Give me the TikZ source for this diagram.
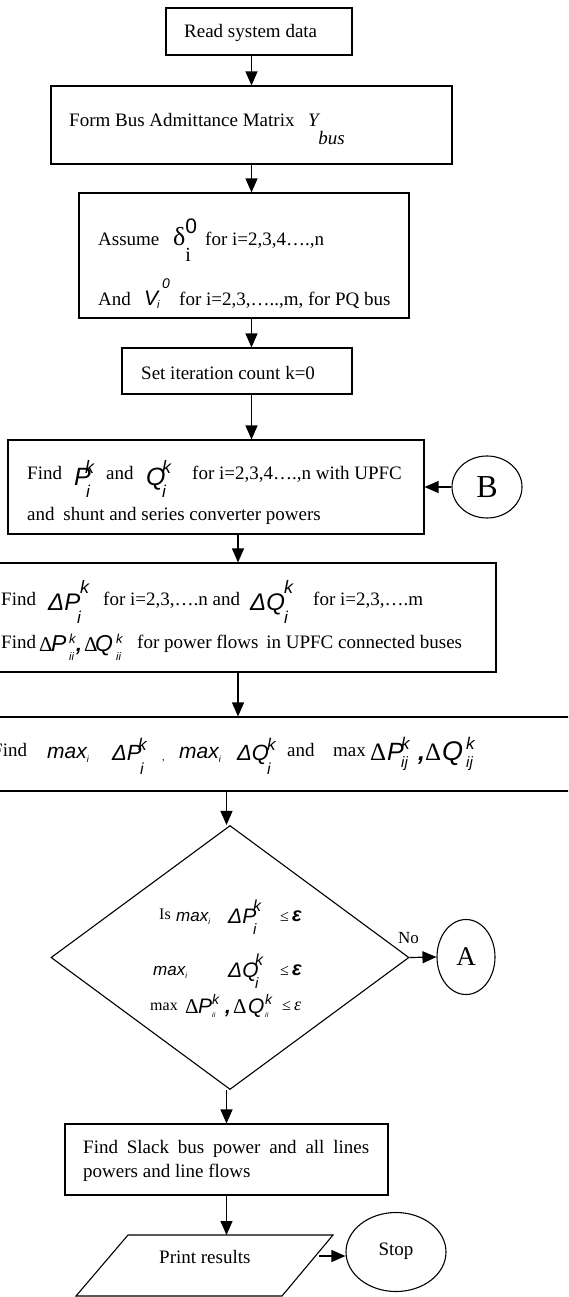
\documentclass[tikz,border=0pt]{standalone}
\usepackage{fontspec}
\setmainfont{Liberation Serif}
\newfontfamily\arialfont{Liberation Sans}
\usepackage{tikz}
\usetikzlibrary{
  shapes.geometric,
  arrows.meta,
  positioning
}

\newcommand{\fsz}[1]{\fontsize{#1}{#1}\selectfont}
\newcommand{\ait}[2]{{\arialfont\itshape\fsz{#1}#2}}
\newcommand{\tms}[2]{{\fsz{#1}#2}}
\newcommand{\adv}[2]{\makebox[#1][l]{#2}}
\newsavebox\supbox
\newsavebox\subbox
\newcommand{\supsub}[4]{%
  \sbox\supbox{\raisebox{#3}{#1}}%
  \sbox\subbox{\raisebox{#4}{#2}}%
  \ifdim\wd\supbox>\wd\subbox\rlap{\usebox\subbox}\usebox\supbox
  \else\rlap{\usebox\supbox}\usebox\subbox\fi}

\begin{document}
\begin{tikzpicture}[
  x=1pt, y=-1pt,
  font=\fontsize{19}{23}\selectfont,
  box/.style={rectangle, draw, line width=1.1pt, inner sep=0pt},
  term/.style={ellipse, draw, line width=1.1pt, inner sep=0pt},
  arr/.style={-{Triangle[length=14pt, width=12pt]}, line width=1.2pt},
  txt/.style={anchor=base west, inner sep=0pt}
]
  \useasboundingbox (0,0) rectangle (568,1297);
  \clip (0,0) rectangle (568,1297);

  \node[box, minimum width=186pt, minimum height=47pt] (read) at (259,31.5) {};
  \node[txt] (read-t) at (184,38) {Read system data};

  \node[box, minimum width=401pt, minimum height=78pt] (ybus) at (251.5,125) {};
  \node[txt] (ybus-t) at (69,127) {Form Bus Admittance Matrix};
  \node[txt] (ybus-y) at (308,127) {\textit{Y}\hspace{-2pt}\raisebox{-18pt}{\textit{bus}}};

  \node[box, minimum width=330pt, minimum height=125pt] (assume) at (244,255.5) {};
  \node[txt] (assume-t1) at (98,246) {Assume};
  \node[txt] (assume-d) at (173,246) {\tms{26}{δ}\supsub{{\arialfont\fsz{21}0}}{\tms{20}{i}}{13pt}{-16pt}};
  \node[txt] (assume-t2) at (205,246) {for i=2,3,4….,n};
  \node[txt] (assume-t3) at (98,305) {And};
  \node[txt] (assume-v) at (144,305) {\ait{21}{V}\hspace{-1pt}\supsub{\hspace{5pt}\ait{14}{0}}{\ait{11}{i}}{17pt}{-3pt}};
  \node[txt] (assume-t4) at (179,305) {for i=2,3,…..,m, for PQ bus};

  \node[box, minimum width=230pt, minimum height=46pt] (iter) at (237,371) {};
  \node[txt] (iter-t) at (141,379) {Set iteration count k=0};

  \node[box, minimum width=416pt, minimum height=94pt] (findpq) at (216,487) {};
  \node[txt] (findpq-t1) at (27,479) {Find};
  \node[txt] (findpq-p) at (74,485) {\adv{11pt}{\ait{25}{P}}\supsub{\ait{18}{k}}{\hspace{1pt}\ait{17}{i}}{12pt}{-12pt}};
  \node[txt] (findpq-t2) at (106,479) {and};
  \node[txt] (findpq-q) at (146,485) {\adv{16pt}{\ait{25}{Q}}\supsub{\ait{18}{k}}{\ait{17}{i}}{12pt}{-12pt}};
  \node[txt] (findpq-t3) at (192,479) {for i=2,3,4….,n with UPFC};
  \node[txt] (findpq-t4) at (27,520) {and\hspace{4pt} shunt and series converter powers};

  \node[term, minimum width=70pt, minimum height=62pt, font=\fsz{32}] (B) at (487,487) {B};

  \node[box, minimum width=516pt, minimum height=109pt] (findd) at (238,617.5) {};
  \node[txt] (findd-t1) at (1,605) {Find};
  \node[txt] (findd-p) at (48,610) {\adv{29pt}{\ait{24}{ΔP}}\supsub{\hspace{3pt}\ait{18}{k}}{\ait{17}{i}}{17pt}{-13pt}};
  \node[txt] (findd-t2) at (103,605) {for i=2,3,….n and};
  \node[txt] (findd-q) at (250,610) {\adv{34pt}{\ait{24}{ΔQ}}\supsub{\ait{18}{k}}{\ait{17}{i}}{17pt}{-13pt}};
  \node[txt] (findd-t3) at (313,605) {for i=2,3,….m};
  \node[txt] (findd-t4) at (1,648) {Find};
  \node[txt] (findd-pq) at (39,651) {\adv{12pt}{\tms{21}{Δ}}\adv{18pt}{\ait{23}{P}}\adv{7pt}{\supsub{\ait{13}{k}}{\ait{11}{ii}}{8pt}{-9pt}}\adv{8pt}{\ait{21}{\bfseries ,}}\adv{11pt}{\tms{21}{Δ}}\adv{21pt}{\ait{23}{Q}}\supsub{\ait{13}{k}}{\ait{11}{ii}}{8pt}{-9pt}};
  \node[txt] (findd-t5) at (137,648) {for power flows\hspace{3pt} in UPFC connected buses};

  \node[box, minimum width=610pt, minimum height=74pt] (maxbox) at (285,754) {};
  \node[txt] (maxbox-t1) at (-8,756) {Find};
  \node[txt] (maxbox-m1) at (47,758) {\ait{21}{max}\raisebox{-4pt}{\ait{9}{i}}};
  \node[txt] (maxbox-p) at (112,760) {\adv{26pt}{\ait{22}{ΔP}}\supsub{\ait{17}{k}}{\hspace{2pt}\ait{16}{i}}{10pt}{-14pt}};
  \node[txt] (maxbox-c) at (162,760) {\tms{10}{,}};
  \node[txt] (maxbox-m2) at (179,758) {\ait{21}{max}\raisebox{-4pt}{\ait{9}{i}}};
  \node[txt] (maxbox-q) at (237,760) {\adv{30pt}{\ait{22}{ΔQ}}\supsub{\ait{17}{k}}{\ait{16}{i}}{10pt}{-14pt}};
  \node[txt] (maxbox-t2) at (287,756) {and};
  \node[txt] (maxbox-t3) at (333,756) {max};
  \node[txt] (maxbox-pq) at (370,760) {\adv{17pt}{\tms{25}{Δ}}\adv{14pt}{\ait{25}{P}}\adv{17pt}{\supsub{\ait{17}{k}}{\ait{15}{ij}}{11pt}{-7pt}}\adv{7pt}{\ait{25}{\bfseries ,}}\adv{17pt}{\tms{25}{Δ}}\adv{24pt}{\ait{27}{Q}}\supsub{\ait{17}{k}}{\ait{15}{ij}}{11pt}{-7pt}};

  \node[diamond, draw, line width=1.1pt, inner sep=0pt, minimum width=358pt, minimum height=264pt] (chk) at (230,957.5) {};
  \node[txt] (chk-t1) at (159,919) {\tms{16}{Is}};
  \node[txt] (chk-m1) at (176,921) {\ait{17}{max}\raisebox{-3pt}{\ait{8}{i}}};
  \node[txt] (chk-p) at (228,923) {\adv{25pt}{\ait{21}{ΔP}}\supsub{\ait{16}{k}}{\ait{15}{i}}{12pt}{-11pt}};
  \node[txt] (chk-le1) at (280,921) {\tms{16}{≤}\,\ait{20}{\bfseries ε}};
  \node[txt] (chk-m2) at (153,975) {\ait{17}{max}\raisebox{-3pt}{\ait{8}{i}}};
  \node[txt] (chk-q) at (228,977) {\adv{27pt}{\ait{21}{ΔQ}}\supsub{\ait{16}{k}}{\ait{15}{i}}{12pt}{-11pt}};
  \node[txt] (chk-le2) at (280,975) {\tms{16}{≤}\,\ait{20}{\bfseries ε}};
  \node[txt] (chk-t3) at (150,1010) {\tms{16}{max}};
  \node[txt] (chk-pq) at (185,1013) {\adv{13pt}{\tms{21}{Δ}}\adv{14pt}{\ait{21}{P}}\adv{13pt}{\supsub{\ait{14}{k}}{\ait{7}{ii}}{9pt}{-4pt}}\adv{8pt}{\ait{21}{\bfseries ,}}\adv{15pt}{\tms{21}{Δ}}\adv{17pt}{\ait{21}{Q}}\supsub{\ait{14}{k}}{\ait{7}{ii}}{9pt}{-4pt}};
  \node[txt] (chk-le3) at (282,1010) {\tms{16}{≤}\,\tms{18}{\itshape ε}};
  \node[txt] (no) at (398,943) {\tms{17}{No}};

  \node[term, minimum width=58pt, minimum height=75pt, font=\fsz{27}] (A) at (466,957) {A};

  \node[box, minimum width=323pt, minimum height=71pt] (slack) at (226.5,1159.5) {};
  \node[txt] (slack-t1) at (83,1153) {\makebox[286pt][s]{Find Slack bus power and all lines}};
  \node[txt] (slack-t2) at (83,1177) {powers and line flows};

  % parallelogram for output
  \coordinate (print-nw) at (128,1235);
  \coordinate (print-ne) at (333,1235);
  \coordinate (print-se) at (282,1296);
  \coordinate (print-sw) at (76,1296);
  \coordinate (print-e) at (319,1256);
  \draw[line width=1.1pt] (print-nw) -- (print-ne) -- (print-se) -- (print-sw) -- cycle;
  \node[txt] (print-t) at (159,1263) {Print results};

  \node[term, minimum width=100pt, minimum height=79pt] (stop) at (396,1252) {\raisebox{6pt}{Stop}};

  \draw[arr] (ybus.north |- read.south) -- (ybus.north);
  \draw[arr] (ybus.south) -- (ybus.south |- assume.north);
  \draw[arr] (ybus.south |- assume.south) -- (ybus.south |- iter.north);
  \draw[arr] (ybus.south |- iter.south) -- (ybus.south |- findpq.north);
  \draw[arr] (B.west) -- (findpq.east);
  \draw[arr] (findd.north |- findpq.south) -- (findd.north);
  \draw[arr] (findd.south) -- (findd.south |- maxbox.north);
  \draw[arr] (slack.north |- maxbox.south) -- (slack.north |- chk.north);
  \draw[arr] (chk.east) -- (A.west);
  \draw[arr] (slack.north |- chk.south) -- (slack.north);
  \draw[arr] (slack.south) -- (slack.south |- print-nw);
  \draw[arr] (print-e) -- (print-e -| stop.west);
\end{tikzpicture}
\end{document}
